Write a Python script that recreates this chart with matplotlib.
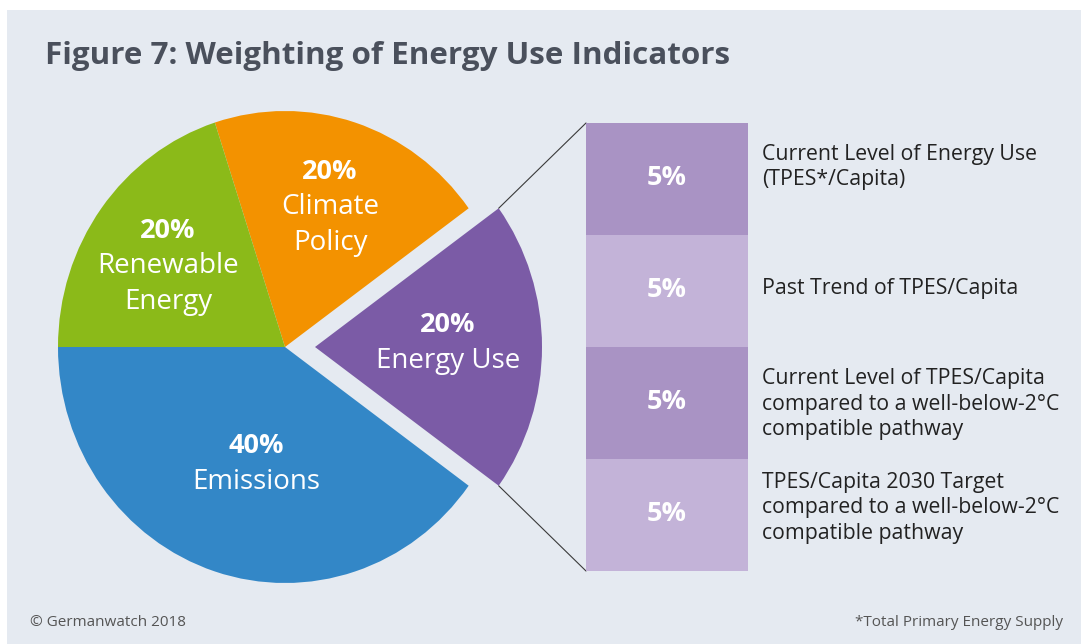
import numpy as np
import matplotlib.pyplot as plt
from matplotlib.patches import Rectangle, ConnectionPatch

plt.rcParams['font.family'] = ['Open Sans', 'DejaVu Sans']

# -----------------------------
# data
# -----------------------------
pie_labels = ["Energy Use", "Climate\nPolicy", "Renewable\nEnergy", "Emissions"]
pie_values = [20, 20, 20, 40]
pie_colors = ["#7b5ba6", "#f39200", "#8bba19", "#3387c7"]

sub_values = [5, 5, 5, 5]
sub_colors = ["#a993c4", "#c3b3d8", "#a993c4", "#c3b3d8"]
sub_labels = [
    "Current Level of Energy Use\n(TPES*/Capita)",
    "Past Trend of TPES/Capita",
    "Current Level of TPES/Capita\ncompared to a well-below-2°C\ncompatible pathway",
    "TPES/Capita 2030 Target\ncompared to a well-below-2°C\ncompatible pathway",
]

title = "Figure 7: Weighting of Energy Use Indicators"
source = "© Germanwatch 2018"
footnote = "*Total Primary Energy Supply"

# -----------------------------
# figure in pixel units
# -----------------------------
W, H = 1081, 644
fig = plt.figure(figsize=(W / 100, H / 100), dpi=100)
fig.patch.set_facecolor("white")

bg = fig.add_axes([0, 0, 1, 1], zorder=0)
bg.set_xlim(0, W)
bg.set_ylim(H, 0)
bg.axis("off")
bg.add_patch(Rectangle((7, 10), W - 7, H - 10, color="#e5eaf1", lw=0))


def px_axes(x0, y0, x1, y1, z):
    # axes placed by pixel box (top-left origin)
    return fig.add_axes([x0 / W, 1 - y1 / H, (x1 - x0) / W, (y1 - y0) / H], zorder=z)


# -----------------------------
# pie (slightly stretched vertically like the original)
# -----------------------------
cx, cy, rx, ry = 285, 347, 227, 236
xl, xr, yb, yt = -1.2, 1.3, -1.15, 1.15
ax_pie = px_axes(cx + xl * rx, cy - yt * ry, cx + xr * rx, cy - yb * ry, 1)
ex = 30 / rx
ax_pie.pie(pie_values, colors=pie_colors, startangle=-36, counterclock=True,
           explode=[ex, 0, 0, 0], wedgeprops=dict(linewidth=0))
ax_pie.set_aspect("auto")
ax_pie.set_xlim(xl, xr)
ax_pie.set_ylim(yb, yt)
ax_pie.axis("off")

# -----------------------------
# stacked breakdown of Energy Use
# -----------------------------
ax_bar = px_axes(586, 123, 748, 571, 1)
bottom = 0
for v, c in zip(sub_values, sub_colors):
    ax_bar.bar(0.5, v, width=1, bottom=bottom, color=c, linewidth=0)
    bottom += v
ax_bar.set_xlim(0, 1)
ax_bar.set_ylim(sum(sub_values), 0)
ax_bar.axis("off")

# connector lines from exploded wedge to the stack
a = np.deg2rad(36)
for yw, yb_ in [(np.sin(a), 0), (-np.sin(a), sum(sub_values))]:
    con = ConnectionPatch(xyA=(ex + np.cos(a), yw), coordsA="data", axesA=ax_pie,
                          xyB=(0, yb_), coordsB="data", axesB=ax_bar,
                          color="#3a3a3a", lw=0.8)
    fig.add_artist(con)

# -----------------------------
# text overlay
# -----------------------------
tx = fig.add_axes([0, 0, 1, 1], zorder=5)
tx.set_xlim(0, W)
tx.set_ylim(H, 0)
tx.axis("off")

tx.text(45, 56, title, fontsize=22.6, fontweight="bold", color="#4a505c",
        va="center", ha="left")

# (x, y of the percent line); following lines are 35 px apart
pie_text_pos = [(448, 325), (330, 172), (168, 231), (256, 446)]
step = 35.5
for (x, y), lab, v in zip(pie_text_pos, pie_labels, pie_values):
    n = lab.count("\n") + 1
    tx.text(x, y, f"{v}%", fontsize=19.5, fontweight="bold", color="white",
            ha="center", va="center")
    tx.text(x, y + step * (n + 1) / 2, lab, fontsize=20, color="white",
            ha="center", va="center", linespacing=1.38)

box_c = [178, 290, 402, 514]
label_c = [167, 288, 404, 508]
for yc, yl, v, lab in zip(box_c, label_c, sub_values, sub_labels):
    tx.text(667, yc, f"{v}%", fontsize=19.5, fontweight="bold", color="white",
            ha="center", va="center")
    tx.text(762, yl, lab, fontsize=15.3, color="#222222", ha="left",
            va="center", linespacing=1.3)

tx.text(30, 623, source, fontsize=11, color="#555555", ha="left", va="center")
tx.text(1063, 623, footnote, fontsize=11, color="#555555", ha="right",
        va="center")

fig.savefig("out.png", dpi=100)
